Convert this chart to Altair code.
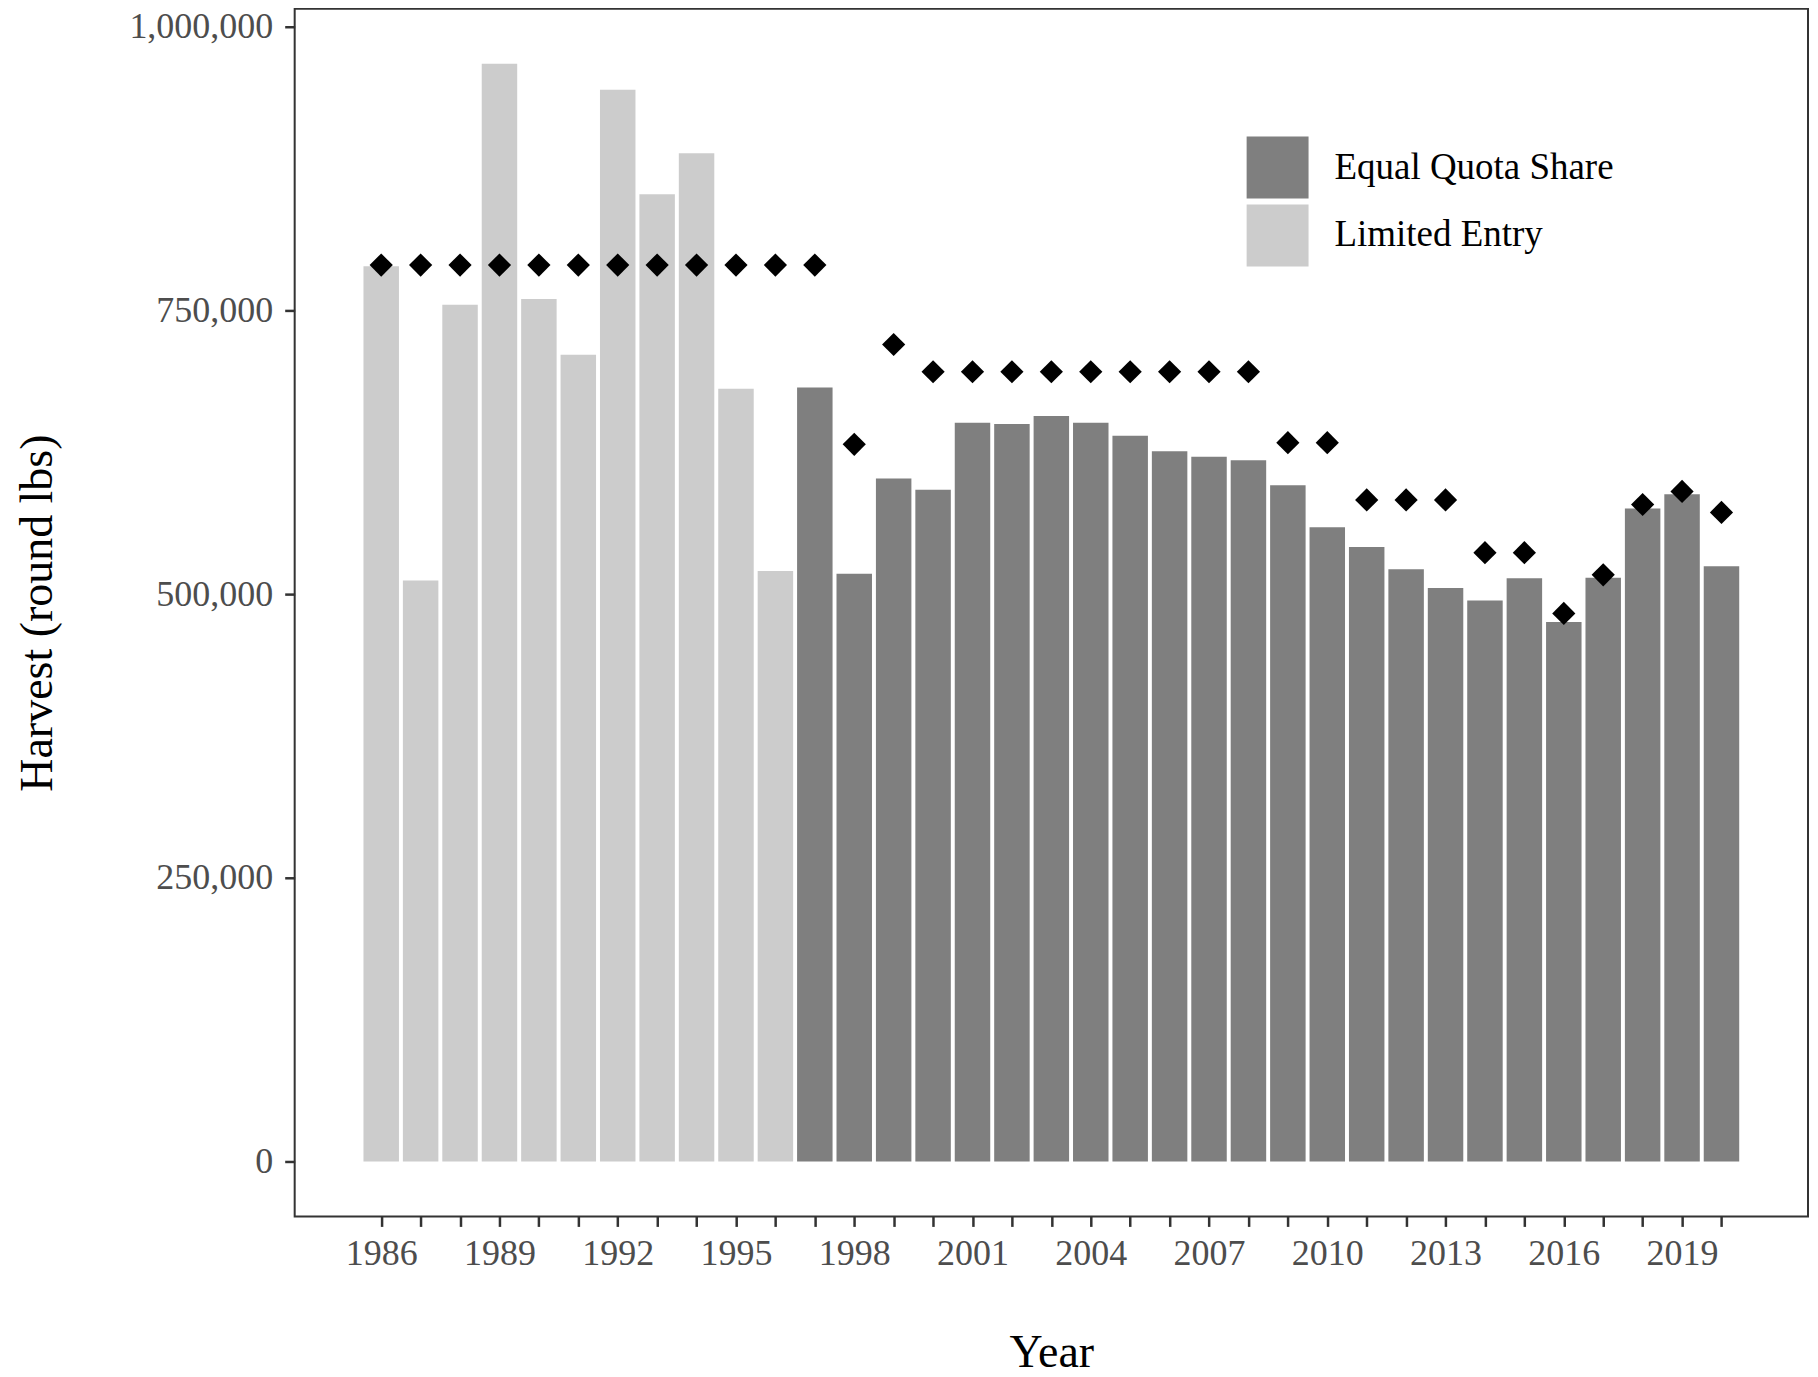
import altair as alt
import pandas as pd

# ---- data ----
years = list(range(1986, 2021))
harvest = [789000, 512000, 755000, 967500, 760000, 711000, 944500, 852500, 888500, 681000,
           520500, 682000, 518000, 602000, 592000, 651000, 650000, 657000, 651000, 639500,
           626000, 621000, 618000, 596000, 559000, 541500, 522000, 505500, 494500, 514000,
           475500, 514500, 575500, 588000, 524500]
quota = [790000] * 12 + [632000, 720000] + [696000] * 9 + [633500, 633500] + [583000] * 3 + \
        [536500, 536500, 483000, 517000, 579000, 590500, 572000]
program = ["Limited Entry"] * 11 + ["Equal Quota Share"] * 24
programs = ["Equal Quota Share", "Limited Entry"]
program_colors = ["#7f7f7f", "#cccccc"]
y_ticks = [0, 250000, 500000, 750000, 1000000]

df = pd.DataFrame({"year": years, "harvest": harvest, "quota": quota, "program": program})

bar_w = 0.9
xmin = min(years) - bar_w / 2
xmax = max(years) + bar_w / 2
xpad = 0.05 * (xmax - xmin)
ymax = max(harvest)
ypad = 0.05 * ymax

FONT = "Liberation Serif"

xscale = alt.Scale(domain=[xmin - xpad, xmax + xpad], nice=False, zero=False)
yscale = alt.Scale(domain=[-ypad, ymax + ypad], nice=False, zero=False)

xaxis = alt.Axis(
    values=years,
    labelExpr="(datum.value - 1986) % 3 == 0 ? datum.value : ''",
    format="d",
    title="Year",
    titleFont=FONT, titleFontSize=46, titleFontWeight="normal", titleColor="#000000",
    titleY=150, titleBaseline="alphabetic",
    labelFont=FONT, labelFontSize=36, labelColor="#4d4d4d", labelPadding=10,
    tickSize=10, tickWidth=2.5, tickColor="#333333",
    domain=False, grid=False, labelOverlap=False,
)
yaxis = alt.Axis(
    values=y_ticks,
    format=",d",
    title="Harvest (round lbs)",
    titleFont=FONT, titleFontSize=46, titleFontWeight="normal", titleColor="#000000",
    titleX=-243, titleY=604.5, titleAngle=-90, titleBaseline="alphabetic", titleAlign="center",
    labelFont=FONT, labelFontSize=36, labelColor="#4d4d4d", labelPadding=12,
    tickSize=10, tickWidth=2.5, tickColor="#333333",
    domain=False, grid=False,
)

base = alt.Chart(df)

bars = base.transform_calculate(
    x0=f"datum.year - {bar_w / 2}",
    x1=f"datum.year + {bar_w / 2}",
).mark_bar(strokeWidth=0).encode(
    x=alt.X("x0:Q", scale=xscale, axis=xaxis),
    x2="x1:Q",
    y=alt.Y("harvest:Q", scale=yscale, axis=yaxis),
    y2=alt.datum(0),
    color=alt.Color(
        "program:N",
        scale=alt.Scale(domain=programs, range=program_colors),
        legend=alt.Legend(
            title=None, orient="none", legendX=953, legendY=128,
            symbolType="square", symbolSize=3844, symbolStrokeWidth=0,
            labelFont=FONT, labelFontSize=37, labelColor="#000000", labelLimit=600,
            labelOffset=26, rowPadding=6, padding=0,
        ),
    ),
)

points = base.mark_point(shape="diamond", filled=True, size=540, opacity=1).encode(
    x=alt.X("year:Q", scale=xscale),
    y=alt.Y("quota:Q", scale=yscale),
    color=alt.value("#000000"),
)

chart = alt.layer(bars, points).properties(
    width=1515,
    height=1209,
    background="white",
    autosize=alt.AutoSizeParams(type="none"),
    padding={"left": 287, "top": 0, "right": 2, "bottom": 152},
).configure_view(
    stroke="#333333", strokeWidth=2, fill="white"
)

chart.save("out.html", embed_options={"renderer": "svg", "actions": False})
